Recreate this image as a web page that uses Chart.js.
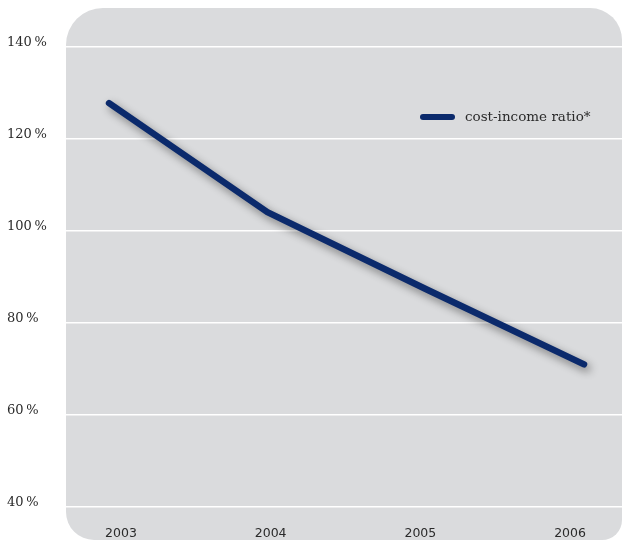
<!DOCTYPE html>
<html>
<head>
<meta charset="utf-8">
<script src="https://cdn.jsdelivr.net/npm/chart.js@4/dist/chart.umd.min.js"></script>
<style>
    html, body { margin: 0; padding: 0; background: #fff; }
    #wrap { width: 622px; height: 540px; }
</style>
</head>
<body>
<div id="wrap"><canvas id="ratioChart"></canvas></div>
<script>
const years = [2003, 2004, 2005, 2006];
const costIncome = [127.8, 104.1, 87.4, 71.0];
const yTicks = [40, 60, 80, 100, 120, 140];
const seriesName = "cost-income ratio*";

const navy = "#0b2a6c";
const panelGrey = "#dadbdd";
const textGrey = "#2a2a2a";

// grey rounded panel behind the plot
const panelPlugin = {
    id: "panel",
    beforeDraw(chart) {
        const { ctx, chartArea } = chart;
        const top = chartArea.top - 39;
        const bottom = chart.height;
        ctx.save();
        ctx.fillStyle = panelGrey;
        ctx.beginPath();
        ctx.roundRect(chartArea.left, top, chartArea.right - chartArea.left, bottom - top, [37, 32, 20, 28]);
        ctx.fill();
        ctx.restore();
    }
};

// soft shadow under the line
const shadowPlugin = {
    id: "lineShadow",
    beforeDatasetsDraw(chart) {
        const ctx = chart.ctx;
        ctx.save();
        ctx.shadowColor = "rgba(0,0,0,0.45)";
        ctx.shadowBlur = 8;
        ctx.shadowOffsetX = 3;
        ctx.shadowOffsetY = 4;
    },
    afterDatasetsDraw(chart) {
        chart.ctx.restore();
    }
};

// legend drawn inside the plot, upper right
const legendPlugin = {
    id: "innerLegend",
    afterDraw(chart) {
        const { ctx, chartArea } = chart;
        const ds = chart.data.datasets[0];
        const x = chartArea.right - 202;
        const y = chartArea.top + 70;
        ctx.save();
        ctx.strokeStyle = ds.borderColor;
        ctx.lineWidth = 6;
        ctx.lineCap = "round";
        ctx.beginPath();
        ctx.moveTo(x + 3, y);
        ctx.lineTo(x + 32, y);
        ctx.stroke();
        ctx.fillStyle = textGrey;
        ctx.font = "13.5px 'DejaVu Serif'";
        ctx.textBaseline = "middle";
        ctx.fillText(ds.label, x + 45, y);
        ctx.restore();
    }
};

const ctx = document.getElementById("ratioChart").getContext("2d");

new Chart(ctx, {
    type: "line",
    data: {
        datasets: [{
            label: seriesName,
            data: years.map((yr, i) => ({ x: yr, y: costIncome[i] })),
            borderColor: navy,
            backgroundColor: navy,
            borderWidth: 6.5,
            borderCapStyle: "round",
            borderJoinStyle: "round",
            tension: 0,
            pointRadius: 0,
            fill: false
        }]
    },
    options: {
        responsive: true,
        maintainAspectRatio: false,
        animation: false,
        layout: { padding: { left: 7, top: 47, right: 0, bottom: 0 } },
        plugins: {
            legend: { display: false },
            tooltip: { enabled: false }
        },
        scales: {
            x: {
                type: "linear",
                display: false,
                min: 2002.728,
                max: 2006.24
            },
            xl: {
                type: "linear",
                position: "bottom",
                min: 2002.633,
                max: 2006.347,
                afterBuildTicks: (axis) => {
                    axis.ticks = years.map(v => ({ value: v }));
                },
                afterFit: (axis) => { axis.height = 33; },
                grid: { display: false },
                border: { display: false },
                ticks: {
                    color: textGrey,
                    padding: 11,
                    font: { family: "'DejaVu Sans'", size: 12.5 },
                    callback: (v) => String(v)
                }
            },
            y: {
                min: 40,
                max: 140,
                afterBuildTicks: (axis) => {
                    axis.ticks = yTicks.map(v => ({ value: v }));
                },
                afterFit: (axis) => { axis.width = 59; },
                grid: { color: "#ffffff", lineWidth: 1.5, drawTicks: false },
                border: { display: false },
                ticks: {
                    color: textGrey,
                    crossAlign: "far",
                    labelOffset: -4,
                    font: { family: "'DejaVu Serif'", size: 13 },
                    callback: (v) => v + "\u2009%"
                }
            }
        }
    },
    plugins: [panelPlugin, shadowPlugin, legendPlugin]
});
</script>
</body>
</html>
